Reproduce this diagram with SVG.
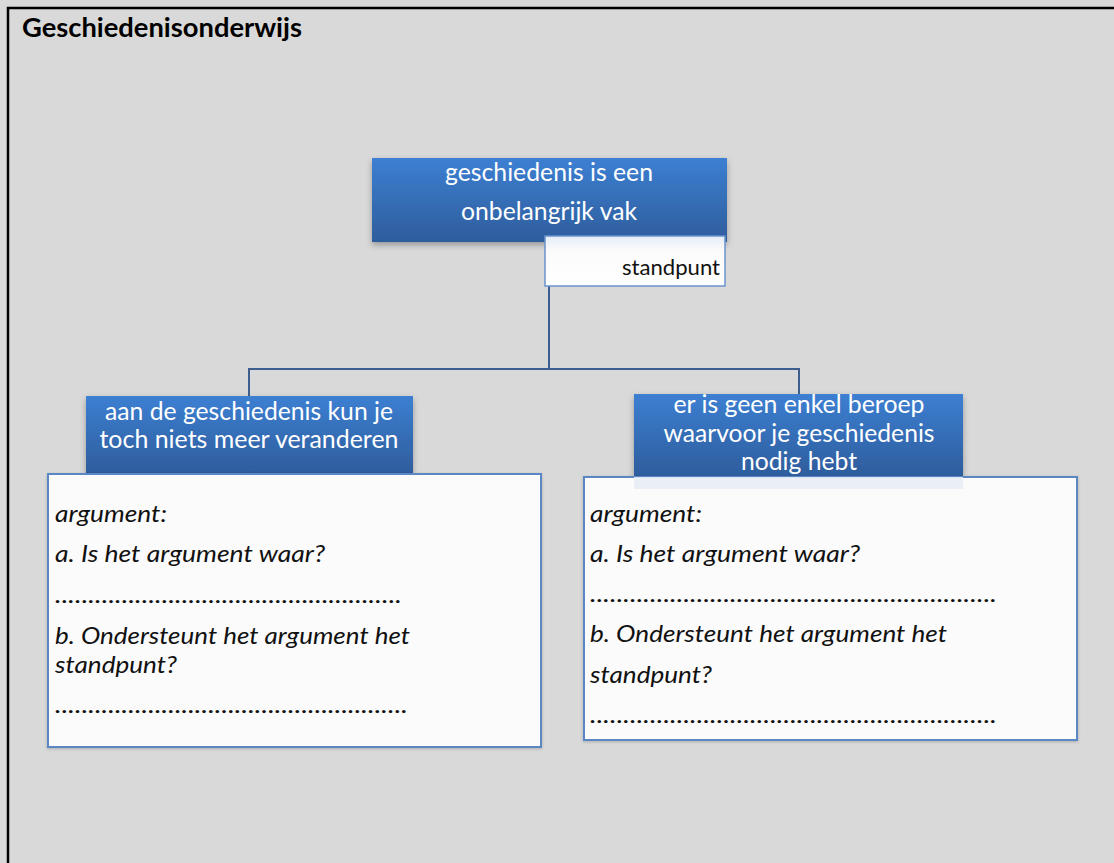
<svg xmlns="http://www.w3.org/2000/svg" width="1114" height="863" viewBox="0 0 1114 863">
<style>
.blue{fill:url(#bg);filter:url(#sh)}
.bt{font-family:Lato,"Liberation Sans",sans-serif;font-size:25px;fill:#ffffff;text-anchor:middle}
.wb{fill:#fbfbfb;stroke:#5b87c5;stroke-width:2;filter:url(#sh2)}
.it{font-family:Lato,"Liberation Sans",sans-serif;font-style:italic;font-size:24px;fill:#111111}
.conn{fill:none;stroke:#3d5f8f;stroke-width:2}
</style>
<defs>
<linearGradient id="bg" x1="0" y1="0" x2="0" y2="1">
<stop offset="0" stop-color="#3c7fd2"/>
<stop offset="1" stop-color="#2e5d9c"/>
</linearGradient>
<linearGradient id="sg" x1="0" y1="0" x2="0" y2="1">
<stop offset="0" stop-color="#e6ecf6"/>
<stop offset="0.3" stop-color="#fbfbfb"/>
<stop offset="1" stop-color="#ffffff"/>
</linearGradient>
<filter id="sh" x="-10%" y="-10%" width="120%" height="130%">
<feDropShadow dx="0" dy="3" stdDeviation="3" flood-color="#000" flood-opacity="0.3"/>
</filter>
<filter id="sh2" x="-10%" y="-10%" width="120%" height="120%">
<feDropShadow dx="0" dy="1" stdDeviation="1.5" flood-color="#000" flood-opacity="0.2"/>
</filter>
</defs>
<rect x="0" y="0" width="1114" height="863" fill="#d9d9d9"/>
<path d="M8 863 V8 H1114" fill="none" stroke="#000" stroke-width="2.5"/>
<text x="22" y="37" font-family="Lato,'Liberation Sans',sans-serif" font-weight="bold" font-size="26" fill="#000" textLength="280" lengthAdjust="spacingAndGlyphs">Geschiedenisonderwijs</text>

<g id="connectors">
<path class="conn" d="M549 286 V369 M249 396 V369 H799 V394"/>
</g>

<g id="standpunt-top">
<rect class="blue" x="372" y="158" width="355" height="84"/>
<text class="bt" x="549" y="181" textLength="208" lengthAdjust="spacingAndGlyphs">geschiedenis is een</text>
<text class="bt" x="549" y="220" textLength="176" lengthAdjust="spacingAndGlyphs">onbelangrijk vak</text>
</g>

<g id="label-standpunt">
<rect x="545" y="236" width="180" height="50" fill="url(#sg)" stroke="#6a93cb" stroke-width="1.5"/>
<text x="720" y="275" text-anchor="end" font-family="Lato,'Liberation Sans',sans-serif" font-size="21" fill="#111" textLength="98" lengthAdjust="spacingAndGlyphs">standpunt</text>
</g>

<g id="argument-left">
<rect class="blue" x="86" y="396" width="327" height="77"/>
<text class="bt" x="249" y="420" textLength="288" lengthAdjust="spacingAndGlyphs">aan de geschiedenis kun je</text>
<text class="bt" x="249" y="448" textLength="299" lengthAdjust="spacingAndGlyphs">toch niets meer veranderen</text>
</g>

<g id="argument-right">
<rect x="634" y="474" width="329" height="15" fill="#e8edf5"/>
<rect class="blue" x="634" y="394" width="329" height="82"/>
<text class="bt" x="799" y="413" textLength="251" lengthAdjust="spacingAndGlyphs">er is geen enkel beroep</text>
<text class="bt" x="799" y="442" textLength="271" lengthAdjust="spacingAndGlyphs">waarvoor je geschiedenis</text>
<text class="bt" x="799" y="470" textLength="116" lengthAdjust="spacingAndGlyphs">nodig hebt</text>
</g>

<g id="questions-left">
<rect class="wb" x="48" y="474" width="493" height="273"/>
<text class="it" x="55" y="522" textLength="112" lengthAdjust="spacingAndGlyphs">argument:</text>
<text class="it" x="55" y="562" textLength="270" lengthAdjust="spacingAndGlyphs">a. Is het argument waar?</text>
<text class="it" x="55" y="603" textLength="347" lengthAdjust="spacingAndGlyphs">....................................................</text>
<text class="it" x="55" y="644" textLength="355" lengthAdjust="spacingAndGlyphs">b. Ondersteunt het argument het</text>
<text class="it" x="55" y="673" textLength="122" lengthAdjust="spacingAndGlyphs">standpunt?</text>
<text class="it" x="55" y="713" textLength="353" lengthAdjust="spacingAndGlyphs">.....................................................</text>
</g>

<g id="questions-right">
<rect class="wb" x="584" y="477" width="493" height="263"/>
<rect x="634" y="477" width="329" height="12" fill="#e8edf5" opacity="0.9"/>
<text class="it" x="590" y="522" textLength="112" lengthAdjust="spacingAndGlyphs">argument:</text>
<text class="it" x="590" y="562" textLength="270" lengthAdjust="spacingAndGlyphs">a. Is het argument waar?</text>
<text class="it" x="590" y="602" textLength="407" lengthAdjust="spacingAndGlyphs">.............................................................</text>
<text class="it" x="590" y="642" textLength="357" lengthAdjust="spacingAndGlyphs">b. Ondersteunt het argument het</text>
<text class="it" x="590" y="683" textLength="122" lengthAdjust="spacingAndGlyphs">standpunt?</text>
<text class="it" x="590" y="723" textLength="407" lengthAdjust="spacingAndGlyphs">.............................................................</text>
</g>
</svg>
